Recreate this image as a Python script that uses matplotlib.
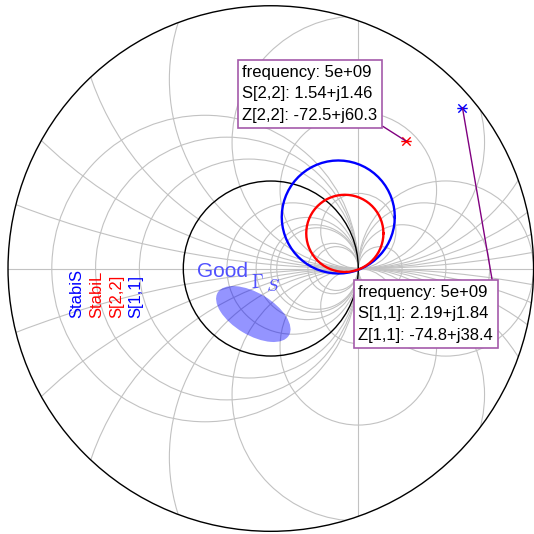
import numpy as np
import matplotlib.pyplot as plt
from matplotlib.patches import Circle, Ellipse
from matplotlib.path import Path

plt.rcParams['font.family'] = ['Liberation Sans', 'DejaVu Sans']
plt.rcParams['mathtext.fontset'] = 'cm'

# ---- data -------------------------------------------------------------------
# stability circles (centre, radius)
stab_names = ['StabiS', 'StabiL']
stab_centres = [0.771 + 0.589j, 0.846 + 0.402j]
stab_radii = [0.646, 0.441]
stab_colors = ['blue', 'red']

# S-parameters at the marked frequency
freq = 5e9
s_names = ['S[1,1]', 'S[2,2]']
z_names = ['Z[1,1]', 'Z[2,2]']
s_values = [2.19 + 1.84j, 1.54 + 1.46j]
z_values = [-74.8 + 38.4j, -72.5 + 60.3j]
s_colors = ['blue', 'red']

# legend entries (drawn as rotated labels)
legend_labels = ['StabiS', 'StabiL', 'S[2,2]', 'S[1,1]']
legend_colors = ['blue', 'red', 'red', 'blue']

# region of good source reflection
good_centre = (-0.2, -0.52)
good_width, good_height, good_angle = 0.95, 0.48, -31

# ---- chart geometry -----------------------------------------------------------
up = 1.05 * max(abs(s) for s in s_values)   # outer radius of the extended chart
grid_x = 8   # number of divisions for Re(z)=const arcs
grid_y = 8   # number of divisions for Im(z)=const arcs

fig = plt.figure(figsize=(5.34, 5.34), dpi=100)
ax = fig.add_axes([0, 0, 1, 1])
ax.set_xlim(-3.095, 3.008)
ax.set_ylim(-3.034, 3.069)
ax.set_aspect('equal')
ax.axis('off')

clip = Circle((0, 0), up, transform=ax.transData, fc='none', ec='none')
ax.add_patch(clip)

grid_col = '#c2c2c2'
grid_lw = 0.8


def grid_circle(centre, radius):
    c = Circle(centre, radius, fc='none', ec=grid_col, lw=grid_lw, zorder=1)
    ax.add_patch(c)
    c.set_clip_path(clip)


def circle_through_one(g):
    """Constant-resistance circle through (1, 0) and (g, 0)."""
    grid_circle(((1 + g) / 2, 0), abs(1 - g) / 2)


# arcs with Im(z) = const
for m in range(1, grid_y):
    ang = np.pi * m / grid_y
    c = (1 - np.cos(ang)) / np.sin(ang) * up ** 0.7
    grid_circle((1, c), c)
    grid_circle((1, -c), c)

# arcs with Re(z) = const
for m in range(1, grid_x):
    g = m * (up + 1) / grid_x - up
    if abs(abs(g) - 1) > 0.2:
        circle_through_one(g)
    d = 1 - g
    g2 = (up * up - 1) / (d * (d / 2 + 1)) - 1
    if g2 >= 1:
        circle_through_one(1 + d)
    elif abs(abs(g2) - 1) > 0.2:
        circle_through_one(g2)

# real axis and the line Re(gamma) = 1
h = np.sqrt(up * up - 1)
ax.plot([-up, up], [0, 0], color=grid_col, lw=grid_lw, zorder=1)
ax.plot([1, 1], [-h, h], color=grid_col, lw=grid_lw, zorder=1)

ax.add_patch(Circle((0, 0), up, fc='none', ec='black', lw=1.0, zorder=3))
ax.add_patch(Circle((0, 0), 1.0, fc='none', ec='black', lw=1.0, zorder=3))

# stability circles
t = np.linspace(0, 2 * np.pi, 65)
for cen, rad, col in zip(stab_centres, stab_radii, stab_colors):
    pts = cen + rad * np.exp(1j * t)
    ax.plot(pts.real, pts.imag, color=col, lw=1.7, zorder=4)

# good region
ax.add_patch(Ellipse(good_centre, good_width, good_height, angle=good_angle,
                     fc='blue', ec='none', alpha=0.42, zorder=2))
ax.text(-0.84, -0.095, 'Good', color='#5050ff', fontsize=15,
        ha='left', va='baseline', zorder=5)
ax.text(-0.225, -0.222, r'$\Gamma$', color='#5050ff', fontsize=13.5,
        ha='left', va='baseline', zorder=5)
ax.text(-0.06, -0.252, r'$S$', color='#5050ff', fontsize=13.5,
        ha='left', va='baseline', zorder=5)

# star marker: horizontal bar plus two diagonals
star = Path([(-1, 0), (1, 0), (-0.8, -0.8), (0.8, 0.8),
             (-0.8, 0.8), (0.8, -0.8)],
            [Path.MOVETO, Path.LINETO] * 3)

# markers and data tips
tip_pos = [(0.999, -0.185), (-0.325, 2.329)]
tip_rel = [(1, 1), (1, 0)]
for s, z, sn, zn, col, pos, rel in zip(s_values, z_values, s_names, z_names,
                                       s_colors, tip_pos, tip_rel):
    ax.plot(s.real, s.imag, marker=star, ms=7.5, color=col, mew=1.0,
            ls='none', zorder=6)
    label = (f'frequency: {freq:g}\n'
             f'{sn}: {s.real:.3g}+j{s.imag:.3g}\n'
             f'{zn}: {z.real:.3g}+j{z.imag:.3g}')
    ax.annotate(label, xy=(s.real, s.imag), xytext=pos, textcoords='data',
                fontsize=12, ha='left', va='top', zorder=7, linespacing=1.55,
                bbox=dict(boxstyle='square,pad=0.28', fc='white',
                          ec='#a45aaa', lw=1.2),
                arrowprops=dict(arrowstyle='-', color='#800080', lw=1.0,
                                relpos=rel, shrinkA=0, shrinkB=0))

# rotated legend labels
leg_x = [-2.22, -1.99, -1.765, -1.545]
for xx, lab, col in zip(leg_x, legend_labels, legend_colors):
    ax.text(xx, -0.565, lab, color=col, fontsize=12, rotation=90,
            ha='center', va='bottom', zorder=5)

fig.savefig('out.png', dpi=100)
